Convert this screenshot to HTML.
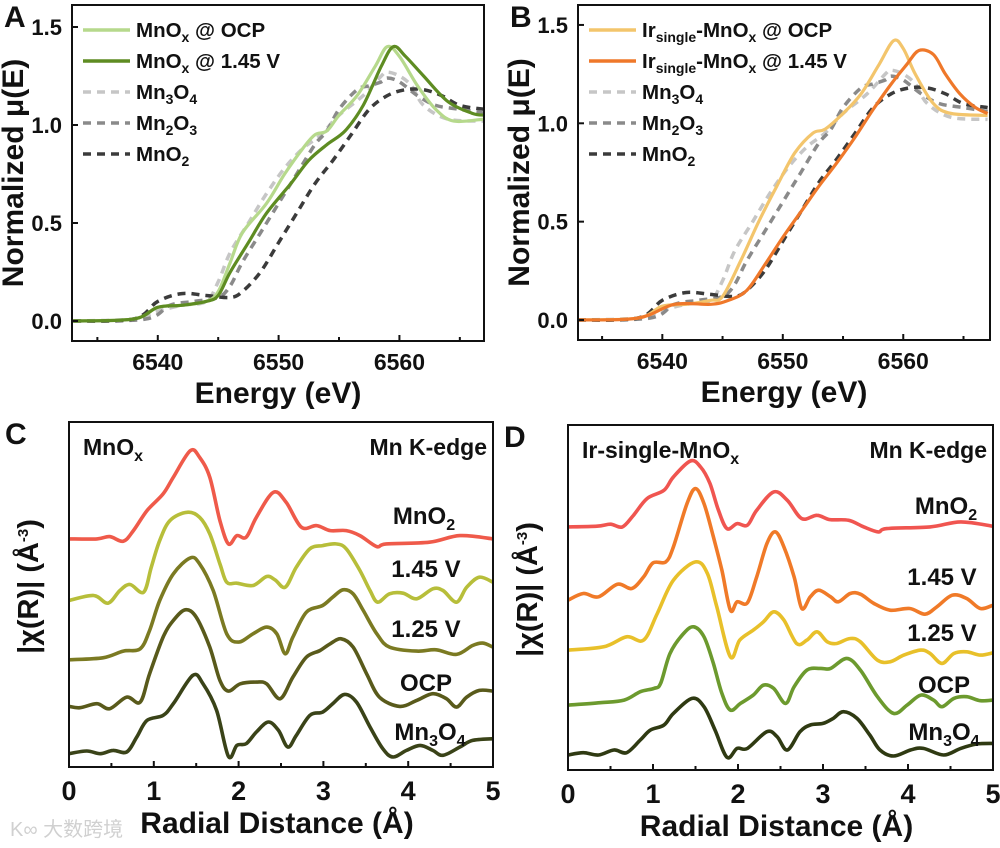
<!DOCTYPE html>
<html><head><meta charset="utf-8"><style>
html,body{margin:0;padding:0;background:#fff;}
svg{display:block;font-family:"Liberation Sans","Noto Sans CJK SC",sans-serif;font-weight:bold;}
</style></head><body>
<svg id="fig" width="1000" height="848" viewBox="0 0 1000 848" xmlns="http://www.w3.org/2000/svg"></svg>
<script>
// ---------- Panel A/B XANES data ----------
const refMn3O4E = [6533,6538,6540,6542,6544,6545,6546,6547.5,6549,6550.5,6552,6553.5,6555,6557,6558.5,6559,6560,6561,6562,6564,6567];
const refMn3O4V = [0,0.01,0.05,0.08,0.1,0.2,0.35,0.5,0.65,0.78,0.88,0.95,1.05,1.15,1.25,1.27,1.25,1.2,1.1,1.03,1.02];
const refMn2O3E = [6533,6539,6541,6543,6545,6546,6547,6548.5,6550,6551.5,6553,6554,6555,6556.5,6557.5,6558.5,6559,6560,6561.5,6563,6565,6567];
const refMn2O3V = [0,0.01,0.08,0.1,0.12,0.18,0.3,0.45,0.6,0.75,0.9,0.97,1.08,1.18,1.2,1.22,1.24,1.22,1.15,1.1,1.08,1.06];
const refMnO2E = [6533,6538,6540,6542,6544,6546,6547,6548.5,6550,6551.5,6553,6554.5,6556,6557.5,6559,6560.5,6562,6563.5,6565,6567];
const refMnO2V = [0,0.01,0.1,0.14,0.13,0.12,0.15,0.25,0.4,0.55,0.7,0.82,0.95,1.08,1.15,1.18,1.18,1.15,1.1,1.08];
const mnOcpE = [6533,6538,6540,6542,6544,6545,6546,6547,6549,6550.5,6552,6553,6554,6555,6556.5,6558,6559,6560,6561.5,6563,6564.5,6567];
const mnOcpV = [0,0.01,0.07,0.08,0.1,0.15,0.3,0.45,0.6,0.75,0.88,0.95,0.97,1.05,1.15,1.3,1.4,1.35,1.2,1.08,1.02,1.03];
const mn145E = [6533,6538,6540,6542,6544,6545,6546,6547.5,6549,6551,6552.5,6554,6555.5,6557,6558.5,6559.5,6560.5,6562,6564,6566,6567];
const mn145V = [0,0.01,0.07,0.08,0.1,0.13,0.25,0.4,0.55,0.7,0.82,0.9,0.97,1.1,1.3,1.4,1.35,1.25,1.12,1.06,1.05];
const irOcpE = [6533,6538,6540,6542,6544,6545,6546.5,6548,6549.5,6551,6552.5,6553.5,6555,6556.5,6558,6559.2,6560,6561,6562.5,6564,6567];
const irOcpV = [0,0.01,0.07,0.08,0.1,0.12,0.3,0.5,0.68,0.85,0.95,0.97,1.05,1.15,1.3,1.42,1.38,1.25,1.1,1.05,1.04];
const ir145E = [6533,6538,6541,6544,6545.5,6547,6548.5,6550,6551.5,6553,6554.5,6556,6557.5,6559,6560.3,6561.3,6562.5,6563.5,6564.7,6566,6567];
const ir145V = [0,0.01,0.08,0.08,0.1,0.15,0.28,0.42,0.55,0.68,0.8,0.93,1.07,1.2,1.3,1.37,1.35,1.25,1.15,1.08,1.05];
const xanesTicks = [6540,6550,6560];
const xanesYTicks = [0,0.5,1.0,1.5];

// ---------- Panel C EXAFS data (offset-stacked, arb. units) ----------
const cMnO2R = [0,0.33,0.48,0.64,0.76,0.92,1.11,1.23,1.43,1.54,1.66,1.78,1.88,1.98,2.09,2.21,2.41,2.56,2.74,2.92,3.08,3.27,3.43,3.63,3.74,4.25,4.61,5];
const cMnO2V = [6.85,6.85,6.92,6.78,7.1,7.7,8.2,8.7,9.5,9.3,8.7,7.4,6.7,6.95,6.9,7.5,8.25,7.95,7.2,7.25,7.1,7.1,6.95,6.62,6.7,6.75,6.95,6.85];
const c145R = [0,0.29,0.46,0.6,0.72,0.88,0.97,1.07,1.19,1.39,1.54,1.66,1.78,1.86,1.98,2.17,2.33,2.43,2.55,2.68,2.84,2.99,3.15,3.27,3.43,3.55,3.64,3.78,3.94,4.1,4.29,4.41,4.57,4.69,4.84,5];
const c145V = [5.0,5.15,4.92,5.3,5.48,5.25,6.0,6.8,7.4,7.65,7.5,7.0,6.1,5.55,5.52,5.45,5.72,5.62,5.4,6.0,6.55,6.65,6.7,6.55,5.9,5.3,4.95,5.2,5.22,5.05,5.35,5.3,4.95,5.4,5.7,5.55];
const c125R = [0,0.4,0.64,0.84,0.95,1.07,1.23,1.43,1.54,1.7,1.86,2.0,2.17,2.33,2.45,2.55,2.64,2.8,2.99,3.11,3.23,3.35,3.47,3.63,3.78,4.1,4.33,4.57,4.76,4.88,5];
const c125V = [3.22,3.28,3.48,3.55,4.1,5.0,5.8,6.28,6.1,5.3,4.0,3.75,4.0,4.2,4.0,3.4,3.9,4.65,4.85,5.1,5.32,5.2,4.7,4.0,3.6,3.48,3.52,3.38,3.65,3.72,3.6];
const cOcpR = [0,0.13,0.33,0.48,0.68,0.84,0.95,1.11,1.23,1.37,1.5,1.66,1.78,1.88,2.02,2.21,2.33,2.49,2.64,2.8,2.96,3.08,3.21,3.35,3.51,3.66,3.9,4.1,4.29,4.45,4.57,4.69,4.84,5];
const cOcpV = [1.82,1.78,1.9,1.75,2.1,1.95,2.8,3.9,4.4,4.72,4.5,3.6,2.6,2.28,2.5,2.55,2.5,2.05,2.7,3.3,3.5,3.7,3.85,3.6,2.8,2.1,1.82,2.0,2.2,2.05,1.8,2.1,2.3,2.28];
const cMn3O4R = [0,0.21,0.37,0.52,0.68,0.8,0.92,1.11,1.23,1.46,1.58,1.74,1.88,1.98,2.09,2.21,2.35,2.47,2.58,2.68,2.84,2.99,3.11,3.25,3.39,3.55,3.7,3.82,3.98,4.14,4.29,4.41,4.61,4.76,5];
const cMn3O4V = [0.4,0.48,0.4,0.5,0.45,0.9,1.4,1.55,1.9,2.75,2.5,1.7,0.32,0.65,0.7,1.05,1.35,1.1,0.6,0.95,1.55,1.65,1.9,2.18,1.95,1.2,0.55,0.3,0.5,0.65,0.5,0.35,0.6,0.8,0.85];

// ---------- Panel D EXAFS data ----------
const dMnO2R = [0,0.34,0.5,0.64,0.77,0.93,1.13,1.24,1.44,1.56,1.67,1.77,1.87,1.99,2.11,2.22,2.42,2.58,2.75,2.93,3.08,3.3,3.48,3.65,3.75,4.26,4.62,5];
const dMnO2V = [7.3,7.32,7.38,7.3,7.65,8.15,8.4,8.8,9.28,9.1,8.6,7.8,7.25,7.4,7.35,7.8,8.35,8.1,7.55,7.65,7.52,7.5,7.3,7.15,7.25,7.3,7.45,7.32];
const d145R = [0,0.18,0.36,0.58,0.75,0.89,1.0,1.15,1.24,1.4,1.5,1.6,1.71,1.81,1.91,1.99,2.11,2.22,2.34,2.44,2.54,2.66,2.75,2.85,2.95,3.09,3.18,3.32,3.44,3.6,3.79,4.02,4.2,4.34,4.52,4.69,4.85,5];
const d145V = [5.1,5.3,5.2,5.58,5.45,5.8,6.22,6.25,6.7,8.0,8.45,8.0,7.0,6.0,4.8,5.05,5.02,5.8,6.8,7.15,6.7,5.8,4.85,5.2,5.4,5.2,5.05,5.3,5.28,5.0,4.8,4.85,4.68,4.9,5.25,5.15,4.85,4.95];
const d125R = [0,0.42,0.69,0.89,1.05,1.24,1.5,1.64,1.75,1.91,2.02,2.18,2.3,2.42,2.54,2.69,2.81,2.93,3.05,3.16,3.32,3.44,3.64,3.79,3.95,4.15,4.26,4.4,4.54,4.69,4.85,5];
const d125V = [3.6,3.7,4.0,3.9,4.7,5.7,6.25,5.9,4.9,3.4,3.9,4.2,4.45,4.75,4.5,3.8,3.9,4.15,3.85,3.8,3.95,3.85,3.3,3.25,3.45,3.6,3.5,3.2,3.5,3.55,3.45,3.52];
const dOcpR = [0,0.38,0.66,0.85,1.01,1.09,1.2,1.36,1.48,1.6,1.71,1.81,1.91,2.03,2.18,2.3,2.42,2.56,2.66,2.81,2.97,3.09,3.28,3.44,3.64,3.83,3.99,4.15,4.3,4.4,4.54,4.69,4.85,5];
const dOcpV = [1.95,2.02,2.1,2.35,2.45,2.6,3.5,4.1,4.3,4.0,3.2,2.3,1.8,2.0,2.25,2.55,2.45,2.0,2.5,3.0,3.05,3.05,3.35,3.0,2.2,1.7,1.95,2.25,2.1,1.9,2.15,2.2,2.08,2.1];
const dMn3O4R = [0,0.18,0.36,0.54,0.69,0.85,0.97,1.13,1.24,1.46,1.6,1.73,1.87,1.99,2.11,2.34,2.46,2.58,2.73,2.85,3.0,3.12,3.24,3.4,3.55,3.67,3.83,4.03,4.18,4.42,4.62,4.81,5];
const dMn3O4V = [0.45,0.52,0.45,0.6,0.52,0.9,1.2,1.35,1.7,2.15,1.9,1.2,0.38,0.65,0.65,1.15,1.0,0.6,1.15,1.35,1.4,1.55,1.75,1.55,1.05,0.6,0.42,0.6,0.65,0.45,0.65,0.78,0.8];
const exafsTicks = [0,1,2,3,4,5];

const NS = "http://www.w3.org/2000/svg";
const svg = document.getElementById('fig');
function mk(tag, attrs, parent) {
  const e = document.createElementNS(NS, tag);
  for (const k in attrs) e.setAttribute(k, attrs[k]);
  (parent || svg).appendChild(e);
  return e;
}
function smoothPath(pts) {
  let d = 'M' + pts[0][0].toFixed(1) + ',' + pts[0][1].toFixed(1);
  for (let i = 0; i < pts.length - 1; i++) {
    const p0 = pts[Math.max(0, i - 1)], p1 = pts[i], p2 = pts[i + 1], p3 = pts[Math.min(pts.length - 1, i + 2)];
    const c1x = p1[0] + (p2[0] - p0[0]) / 6, c1y = p1[1] + (p2[1] - p0[1]) / 6;
    const c2x = p2[0] - (p3[0] - p1[0]) / 6, c2y = p2[1] - (p3[1] - p1[1]) / 6;
    d += 'C' + c1x.toFixed(1) + ',' + c1y.toFixed(1) + ' ' + c2x.toFixed(1) + ',' + c2y.toFixed(1) + ' ' + p2[0].toFixed(1) + ',' + p2[1].toFixed(1);
  }
  return d;
}
function text(str, x, y, size, anchor, parent) {
  const t = mk('text', {x: x, y: y, 'font-size': size, 'text-anchor': anchor || 'start', fill: '#111'}, parent);
  t.innerHTML = str;
  return t;
}

// ---------- XANES panel builder ----------
function xanesPanel(g, box, series, legend, letter) {
  const sx = e => box.x0 + (e - box.e0) * (box.x1 - box.x0) / (box.e1 - box.e0);
  const sy = v => box.yz - v * box.ppu;
  const clip = mk('clipPath', {id: 'clip' + letter}, g);
  mk('rect', {x: box.x0, y: box.y0, width: box.x1 - box.x0, height: box.y1 - box.y0}, clip);
  const sg = mk('g', {'clip-path': 'url(#clip' + letter + ')'}, g);
  series.forEach(s => {
    const pts = s.e.map((e, i) => [sx(e), sy(s.v[i])]);
    const p = mk('path', {d: smoothPath(pts), fill: 'none', stroke: s.c, 'stroke-width': s.dash ? 3.5 : 3.2, 'stroke-dasharray': s.dash ? '8,6' : 'none', 'stroke-linejoin': 'round'}, sg);
    
    
  });
  const frame = mk('rect', {x: box.x0, y: box.y0, width: box.x1 - box.x0, height: box.y1 - box.y0, fill: 'none', stroke: '#111', 'stroke-width': 2}, g);
  
  
  for (let e = 6535; e <= 6565; e += 5) {
    const major = xanesTicks.indexOf(e) >= 0;
    mk('line', {x1: sx(e), x2: sx(e), y1: box.y1, y2: box.y1 - (major ? 6 : 4), stroke: '#111', 'stroke-width': 2}, g);
  }
  xanesTicks.forEach(e => {
    const t = text(e, sx(e), box.y1 + 29, 23, 'middle', g);
    
    
  });
  xanesYTicks.forEach(v => {
    mk('line', {x1: box.x0, x2: box.x0 + 6, y1: sy(v), y2: sy(v), stroke: '#111', 'stroke-width': 2}, g);
    const t = text(v.toFixed(1), box.x0 - 10, sy(v) + 8, 22, 'end', g);
    
    
  });
  const xt = text('Energy (eV)', (box.x0 + box.x1) / 2, box.y1 + 62, 30, 'middle', g);
  
  
  const yt = text('Normalized μ(E)', 0, 0, 30, 'middle', g);
  yt.setAttribute('transform', 'translate(' + (box.x0 - 49) + ',' + ((box.y0 + box.y1) / 2) + ') rotate(-90)');
  
  
  const pl = text(letter, box.x0 - 68, 27, 30, 'start', g);
  
  
  legend.forEach((L, i) => {
    const y = box.y0 + 25 + i * 31;
    const lg = mk('g', {}, g);
    
    
    mk('line', {x1: box.x0 + 11, x2: box.x0 + 58, y1: y, y2: y, stroke: L.c, 'stroke-width': 3.5, 'stroke-dasharray': L.dash ? '8,6' : 'none'}, lg);
    text(L.t, box.x0 + 64, y + 7, 20.5, 'start', lg);
  });
}

const gA = mk('g', {});  
const refs = [
  {e: refMn3O4E, v: refMn3O4V, c: '#c6c6c6', dash: 1, name: 'mn3o4-reference-line'},
  {e: refMn2O3E, v: refMn2O3V, c: '#8a8a8a', dash: 1, name: 'mn2o3-reference-line'},
  {e: refMnO2E, v: refMnO2V, c: '#3b3b3b', dash: 1, name: 'mno2-reference-line'}];
const sub = (s) => '<tspan font-size="14" dy="5">' + s + '</tspan><tspan dy="-5">';
const refLeg = [
  {t: 'Mn' + sub('3') + 'O</tspan>' + sub('4') + '</tspan>', c: '#c6c6c6', dash: 1},
  {t: 'Mn' + sub('2') + 'O</tspan>' + sub('3') + '</tspan>', c: '#8a8a8a', dash: 1},
  {t: 'MnO' + sub('2') + '</tspan>', c: '#3b3b3b', dash: 1}];
xanesPanel(gA, {x0: 72, x1: 484, y0: 5, y1: 341, e0: 6532.9, e1: 6567.0, yz: 321, ppu: 196},
  refs.concat([
    {e: mnOcpE, v: mnOcpV, c: '#b6d98c', name: 'mnox-ocp-line'},
    {e: mn145E, v: mn145V, c: '#5e8c22', name: 'mnox-1.45v-line'}]),
  [{t: 'MnO' + sub('x') + ' @ OCP</tspan>', c: '#b6d98c'},
   {t: 'MnO' + sub('x') + ' @ 1.45 V</tspan>', c: '#5e8c22'}].concat(refLeg), 'A');

const gB = mk('g', {});  
xanesPanel(gB, {x0: 578, x1: 990, y0: 5, y1: 340, e0: 6533.0, e1: 6567.2, yz: 320, ppu: 196.7},
  refs.concat([
    {e: irOcpE, v: irOcpV, c: '#f3c56c', name: 'ir-mnox-ocp-line'},
    {e: ir145E, v: ir145V, c: '#ef782a', name: 'ir-mnox-1.45v-line'}]),
  [{t: 'Ir' + sub('single') + '-MnO</tspan>' + sub('x') + ' @ OCP</tspan>', c: '#f3c56c'},
   {t: 'Ir' + sub('single') + '-MnO</tspan>' + sub('x') + ' @ 1.45 V</tspan>', c: '#ef782a'}].concat(refLeg), 'B');

// ---------- EXAFS panel builder ----------
function exafsPanel(g, box, series, labels, title, letter) {
  const sx = r => box.x0 + r * (box.x1 - box.x0) / 5;
  const sy = v => box.y1 - v * box.ppu;
  series.forEach(s => {
    const pts = s.r.map((r, i) => [sx(r), sy(s.v[i])]);
    const p = mk('path', {d: smoothPath(pts), fill: 'none', stroke: s.c, 'stroke-width': 3.6, 'stroke-linejoin': 'round'}, g);
    
    
  });
  const frame = mk('rect', {x: box.x0, y: box.y0, width: box.x1 - box.x0, height: box.y1 - box.y0, fill: 'none', stroke: '#111', 'stroke-width': 2}, g);
  
  
  for (let r = 0.5; r < 5; r += 0.5) {
    const major = Number.isInteger(r);
    mk('line', {x1: sx(r), x2: sx(r), y1: box.y1, y2: box.y1 - (major ? 6 : 4), stroke: '#111', 'stroke-width': 2}, g);
  }
  exafsTicks.forEach(r => {
    const t = text(r, sx(r), box.y1 + 33, 27, 'middle', g);
    
    
  });
  const xt = text('Radial Distance (Å)', (box.x0 + box.x1) / 2 - 4, box.y1 + 66, 30, 'middle', g);
  
  
  const yt = text('|χ(R)| (Å<tspan font-size="15" dy="-10">-3</tspan><tspan dy="10">)</tspan>', 0, 0, 29, 'middle', g);
  yt.setAttribute('transform', 'translate(' + (box.x0 - 31) + ',' + ((box.y0 + box.y1) / 2 - 8) + ') rotate(-90)');
  
  
  const pl = text(letter, box.x0 - 64, box.y0 + 22, 30, 'start', g);
  
  
  const tl = text(title, box.x0 + 14, box.y0 + 33, 23, 'start', g);
  
  
  const ke = text('Mn K-edge', box.x1 - 6, box.y0 + 33, 23, 'end', g);
  
  
  labels.forEach(L => {
    const t = text(L.t, L.x, L.y, 24, 'middle', g);
    
    
  });
}
const subE = (s) => '<tspan font-size="16" dy="6">' + s + '</tspan><tspan dy="-6">';

const gC = mk('g', {});  
exafsPanel(gC, {x0: 69, x1: 493, y0: 422, y1: 767, ppu: 33.3}, [
  {r: cMnO2R, v: cMnO2V, c: '#ef5a4a', name: 'mno2-curve'},
  {r: c145R, v: c145V, c: '#b7be3a', name: '1.45v-curve'},
  {r: c125R, v: c125V, c: '#7b7a22', name: '1.25v-curve'},
  {r: cOcpR, v: cOcpV, c: '#595a1b', name: 'ocp-curve'},
  {r: cMn3O4R, v: cMn3O4V, c: '#3a4318', name: 'mn3o4-curve'}],
  [{t: 'MnO' + subE('2') + '</tspan>', x: 424, y: 524},
   {t: '1.45 V', x: 426, y: 577},
   {t: '1.25 V', x: 426, y: 637},
   {t: 'OCP', x: 426, y: 691},
   {t: 'Mn' + subE('3') + 'O</tspan>' + subE('4') + '</tspan>', x: 430, y: 740}],
  'MnO' + subE('x') + '</tspan>', 'C');

const gD = mk('g', {});  
exafsPanel(gD, {x0: 568, x1: 993, y0: 425, y1: 770, ppu: 33.3}, [
  {r: dMnO2R, v: dMnO2V, c: '#f05550', name: 'mno2-curve'},
  {r: d145R, v: d145V, c: '#f07a28', name: '1.45v-curve'},
  {r: d125R, v: d125V, c: '#e8c02a', name: '1.25v-curve'},
  {r: dOcpR, v: dOcpV, c: '#6c9a2e', name: 'ocp-curve'},
  {r: dMn3O4R, v: dMn3O4V, c: '#2f3a12', name: 'mn3o4-curve'}],
  [{t: 'MnO' + subE('2') + '</tspan>', x: 946, y: 514},
   {t: '1.45 V', x: 942, y: 585},
   {t: '1.25 V', x: 942, y: 641},
   {t: 'OCP', x: 944, y: 693},
   {t: 'Mn' + subE('3') + 'O</tspan>' + subE('4') + '</tspan>', x: 944, y: 740}],
  'Ir-single-MnO' + subE('x') + '</tspan>', 'D');

const wm = mk('text', {x: 10, y: 836, 'font-size': 20, fill: '#d0d0d0', 'font-weight': 'normal'});
wm.textContent = 'K∞ 大数跨境';


</script>
</body></html>
